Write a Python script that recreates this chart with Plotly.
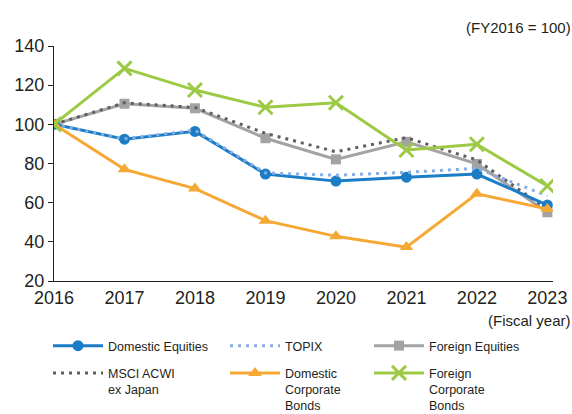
import plotly.graph_objects as go

years = [2016, 2017, 2018, 2019, 2020, 2021, 2022, 2023]

domestic_equities = [100, 92.4, 96.4, 74.6, 71.0, 73.0, 74.6, 58.8]
topix = [100, 92.6, 97.0, 75.2, 74.0, 75.5, 77.5, 63.5]
foreign_equities = [100, 110.5, 108.2, 92.9, 82.1, 91.1, 79.8, 55.1]
msci_acwi = [100, 111.0, 108.6, 95.4, 86.0, 93.2, 81.8, 56.5]
domestic_corp_bonds = [100, 77.0, 67.2, 50.8, 42.8, 37.3, 64.5, 56.8]
foreign_corp_bonds = [100, 128.6, 117.5, 108.7, 111.0, 86.9, 89.8, 68.5]

y_ticks = [20, 40, 60, 80, 100, 120, 140]

BLUE = "#1b7dc6"
LIGHT_BLUE = "#86aee4"
GRAY = "#a3a3a3"
DARK_GRAY = "#5f5f5f"
ORANGE = "#f6a835"
GREEN = "#9dca45"
TEXT = "#231f20"

FONT = "Liberation Sans, Arial, sans-serif"
DOT = "3px,5px"

fig = go.Figure()

# draw order: bonds / foreign equities underneath, indices and green line on top
fig.add_trace(go.Scatter(
    x=years, y=foreign_equities, name="Foreign Equities",
    mode="lines+markers",
    line=dict(color=GRAY, width=3),
    marker=dict(symbol="square", size=10, color=GRAY),
    legend="legend3", legendrank=1, legendgroup="fe",
))
fig.add_trace(go.Scatter(
    x=years, y=msci_acwi, name="MSCI ACWI<br>ex Japan",
    mode="lines",
    line=dict(color=DARK_GRAY, width=3, dash=DOT),
    legend="legend", legendrank=2, legendgroup="msci",
))
fig.add_trace(go.Scatter(
    x=years, y=domestic_equities, name="Domestic Equities",
    mode="lines+markers",
    line=dict(color=BLUE, width=3),
    marker=dict(symbol="circle", size=11, color=BLUE),
    legend="legend", legendrank=1, legendgroup="de",
))
fig.add_trace(go.Scatter(
    x=years, y=topix, name="TOPIX",
    mode="lines",
    line=dict(color=LIGHT_BLUE, width=3, dash=DOT),
    legend="legend2", legendrank=1, legendgroup="topix",
))
fig.add_trace(go.Scatter(
    x=years, y=domestic_corp_bonds, name="Domestic<br>Corporate<br>Bonds",
    mode="lines+markers",
    line=dict(color=ORANGE, width=3),
    marker=dict(symbol="triangle-up", size=12, color=ORANGE),
    legend="legend2", legendrank=2, legendgroup="dcb",
))
fig.add_trace(go.Scatter(
    x=years, y=foreign_corp_bonds, name="Foreign<br>Corporate<br>Bonds",
    mode="lines+markers",
    line=dict(color=GREEN, width=3),
    marker=dict(symbol="x-thin", size=14, color=GREEN, line=dict(color=GREEN, width=3)),
    legend="legend3", legendrank=2, legendgroup="fcb",
))

legend_common = dict(
    orientation="v", xanchor="left", yanchor="top",
    xref="container", yref="container",
    font=dict(family=FONT, size=12.5, color=TEXT),
    bgcolor="rgba(0,0,0,0)", valign="top",
    tracegroupgap=8, itemwidth=50, traceorder="grouped",
)

fig.update_layout(
    width=572, height=414,
    margin=dict(l=54, r=19, t=46, b=133, autoexpand=False),
    paper_bgcolor="white", plot_bgcolor="white",
    font=dict(family=FONT, size=16, color=TEXT),
    xaxis=dict(
        range=[2016, 2023.08], tickvals=years, ticktext=[str(y) for y in years],
        showline=True, linecolor="#231f20", linewidth=1.2,
        showgrid=False, zeroline=False, ticks="",
        tickfont=dict(family=FONT, size=18, color=TEXT),
    ),
    yaxis=dict(
        range=[20, 140], tickvals=y_ticks,
        showline=True, linecolor="#231f20", linewidth=1.2,
        showgrid=False, zeroline=False,
        ticks="outside", ticklen=5, tickcolor="#231f20", tickwidth=1,
        tickfont=dict(family=FONT, size=18, color=TEXT),
    ),
    legend=dict(x=48 / 572, y=1 - 331 / 414, **legend_common),
    legend2=dict(x=225 / 572, y=1 - 331 / 414, **legend_common),
    legend3=dict(x=369 / 572, y=1 - 331 / 414, **legend_common),
    annotations=[
        dict(text="(FY2016 = 100)", xref="paper", yref="paper",
             x=1.04, y=1.08, xanchor="right", yanchor="middle",
             showarrow=False, font=dict(family=FONT, size=15, color=TEXT)),
        dict(text="(Fiscal year)", xref="paper", yref="paper",
             x=1.04, y=-0.17, xanchor="right", yanchor="middle",
             showarrow=False, font=dict(family=FONT, size=15, color=TEXT)),
    ],
)

fig.write_html("out.html")
